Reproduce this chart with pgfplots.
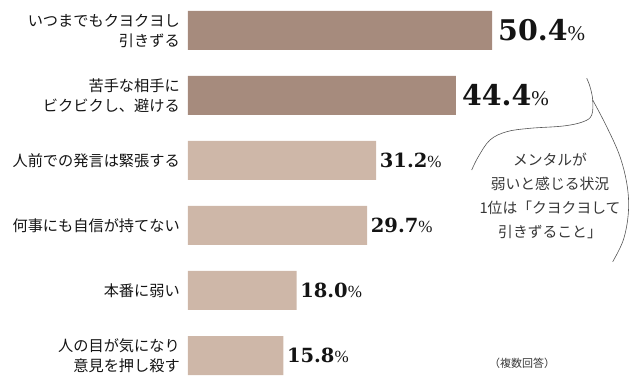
\documentclass[border=0pt]{standalone}
\usepackage{pgfplots}
\pgfplotsset{compat=1.18}
\usepackage{fontspec}
\setmainfont{Noto Sans CJK JP}
\newfontfamily\valfont{DejaVu Serif}
\newfontfamily\pctfont{Liberation Serif}
\definecolor{darkbar}{RGB}{166,139,125}
\definecolor{lightbar}{RGB}{206,183,168}
\definecolor{txt}{RGB}{20,20,20}
\definecolor{txtb}{RGB}{55,55,55}
\definecolor{linec}{RGB}{85,85,85}
\begin{document}
\begin{tikzpicture}
\begin{axis}[
  scale only axis, width=450pt, height=388pt,
  xmin=0, xmax=74.6, ymin=-0.5, ymax=5.469,
  xbar, bar width=39pt,
  axis line style={draw=none}, major tick style={draw=none}, major tick length=0pt,
  xtick=\empty,
  ytick={0,1,2,3,4,5},
  yticklabels={{人の目が気になり\\意見を押し殺す},{本番に弱い},{何事にも自信が持てない},{人前での発言は緊張する},{苦手な相手に\\ビクビクし、避ける},{いつまでもクヨクヨし\\引きずる}},
  yticklabel style={align=right, font=\fontsize{15.2}{20}\selectfont, text=txt, inner sep=0pt, xshift=-8pt},
  clip=false,
  point meta=x,
  /pgf/number format/assume math mode=true,
]
\addplot[fill=darkbar, draw=none, bar shift=0pt,
  nodes near coords={{\valfont\bfseries\fontsize{28.5}{28}\selectfont\pgfmathprintnumber[fixed,fixed zerofill,precision=1]{\pgfplotspointmeta}}{\pctfont\fontsize{21}{20}\selectfont\%}},
  every node near coord/.append style={anchor=west, inner sep=0pt, xshift=6pt, text=txt}]
  coordinates {(50.4,5) (44.4,4)};
\addplot[fill=lightbar, draw=none, bar shift=0pt,
  nodes near coords={{\valfont\bfseries\fontsize{19.5}{19.5}\selectfont\pgfmathprintnumber[fixed,fixed zerofill,precision=1]{\pgfplotspointmeta}}{\pctfont\fontsize{17}{16}\selectfont\%}},
  every node near coord/.append style={anchor=west, inner sep=0pt, xshift=3.5pt, text=txt}]
  coordinates {(31.2,3) (29.7,2) (18.0,1) (15.8,0)};
\end{axis}
\path ([xshift=-188pt]current axis.south west) -- (current axis.north east);
\begin{scope}[shift={(current axis.north west)}, xshift=-188pt, x=1pt, y=-1pt]
\draw[linec, line width=0.6pt] plot[smooth, tension=0.6] coordinates {(471.7,170) (478.3,156.7) (490,140) (506.7,131.7) (530,128.3) (563.3,126) (583.3,121.7) (591.7,115) (592.7,100) (590,86.7) (586.7,78.3)};
\draw[linec, line width=0.6pt] plot[smooth, tension=0.6] coordinates {(592.7,100) (606.7,126.7) (620,156.7) (627.3,186.7) (628.3,213.3) (623.3,240) (612.7,261.7)};
\node[font=\fontsize{14.8}{24}\selectfont, align=center, text=txtb] at (550,196) {メンタルが\\弱いと感じる状況\\1位は「クヨクヨして\\引きずること」};
\node[font=\fontsize{11}{12}\selectfont, text=txtb] at (522,363) {（複数回答）};
\end{scope}
\end{tikzpicture}
\end{document}
